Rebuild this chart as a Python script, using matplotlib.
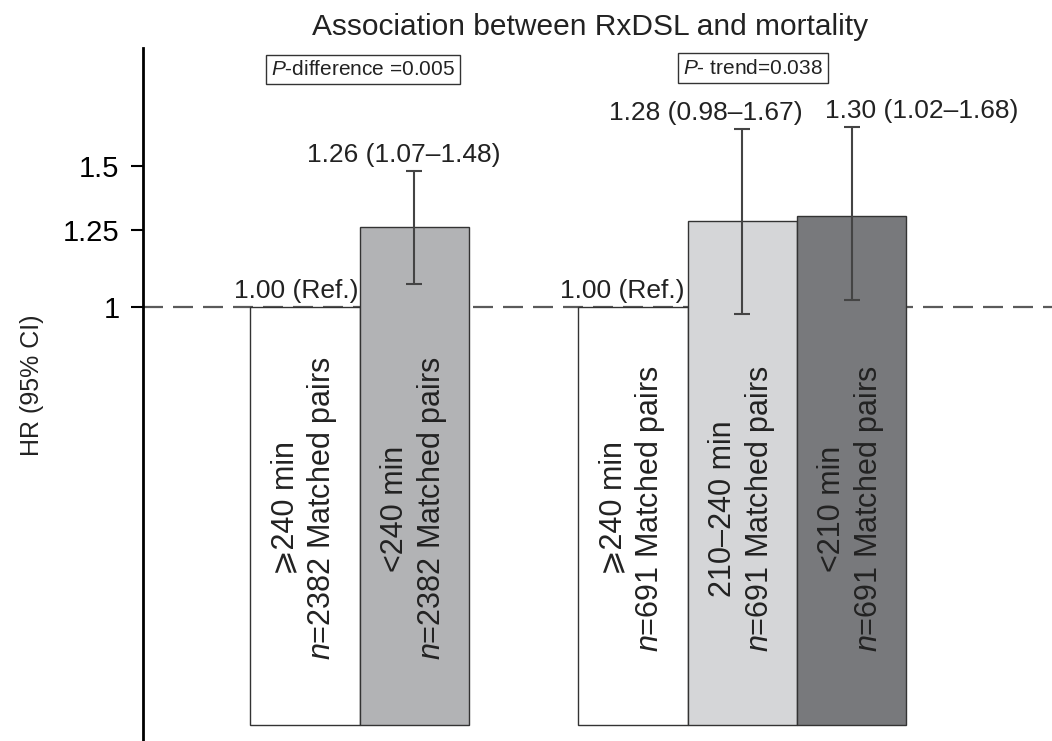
import numpy as np
import matplotlib
matplotlib.use("Agg")
import matplotlib.pyplot as plt

plt.rcParams['font.family'] = ['Liberation Sans', 'DejaVu Sans']
plt.rcParams['mathtext.fontset'] = 'custom'
plt.rcParams['mathtext.rm'] = 'Liberation Sans'
plt.rcParams['mathtext.it'] = 'Liberation Sans:italic'

# data
positions = [1, 2, 4, 5, 6]
hr = [1.00, 1.26, 1.00, 1.28, 1.30]
ci_low = [np.nan, 1.07, np.nan, 0.98, 1.02]
ci_high = [np.nan, 1.48, np.nan, 1.67, 1.68]
groups = ["\u2a7e240 min", "<240 min", "\u2a7e240 min", "210\u2013240 min", "<210 min"]
pairs = [2382, 2382, 691, 691, 691]
value_labels = ["1.00 (Ref.)", "1.26 (1.07\u20131.48)", "1.00 (Ref.)",
                "1.28 (0.98\u20131.67)", "1.30 (1.02\u20131.68)"]
colors = ["white", "#b2b3b5", "white", "#d5d6d8", "#78797c"]
yticks = [1, 1.25, 1.5]
ytick_labels = ["1", "1.25", "1.5"]

fig = plt.figure(figsize=(10.52, 7.41), dpi=100)
ax = fig.add_axes([143/1052, 1/741, 909/1052, 692/741])

base = 0.3
hr = np.asarray(hr)
ax.bar(positions, hr - base, bottom=base, width=1.0, color=colors,
       edgecolor="#333333", linewidth=1.0, zorder=2)

lo = hr - np.asarray(ci_low)
hi = np.asarray(ci_high) - hr
ax.errorbar(positions, hr, yerr=[lo, hi], fmt="none", ecolor="#444444",
            elinewidth=1.5, capsize=6, capthick=1.5, zorder=3)

ax.axhline(1.0, color="#5a5a5a", lw=1.6, dashes=(9, 4.5), zorder=1)

ax.set_yscale("log")
ax.set_ylim(0.2875, 2.108)
ax.set_xlim(-0.482, 7.834)
ax.yaxis.set_major_locator(matplotlib.ticker.FixedLocator(yticks))
ax.yaxis.set_minor_locator(matplotlib.ticker.NullLocator())
ax.set_yticklabels(ytick_labels)
ax.tick_params(axis="y", labelsize=21, length=9, width=1.5, pad=8)
ax.set_xticks([])
for s in ["top", "right", "bottom"]:
    ax.spines[s].set_visible(False)
ax.spines["left"].set_linewidth(2)

# labels inside the bars
for x, g, n in zip(positions, groups, pairs):
    ax.text(x, 0.56, g + "\n$n$=%d Matched pairs" % n, rotation=90,
            ha="center", va="center", multialignment="center",
            fontsize=22, color="#222222", zorder=4)

# value labels above bars
dx = [-0.08, -0.1, -0.1, -0.33, 0.64]
for x, h, top, lab, d in zip(positions, hr, ci_high, value_labels, dx):
    y = h if np.isnan(top) else top
    ax.annotate(lab, (x + d, y), xytext=(0, 3), textcoords="offset points",
                ha="center", va="bottom", fontsize=19, color="#222222")

box = dict(boxstyle="square,pad=0.25", fc="white", ec="#333333", lw=1)
ax.text(1.53, 1.98, "$P$-difference =0.005", ha="center", va="center",
        fontsize=15, color="#222222", bbox=box)
ax.text(5.10, 1.99, "$P$- trend=0.038", ha="center", va="center",
        fontsize=15, color="#222222", bbox=box)

fig.text(0.561, 0.9636, "Association between RxDSL and mortality",
         ha="center", va="center", fontsize=21.5, color="#222222")
fig.text(0.03, 0.48, "HR (95% CI)", rotation=90, ha="center", va="center",
         fontsize=18, color="#222222")

fig.savefig("out.png", dpi=100)
